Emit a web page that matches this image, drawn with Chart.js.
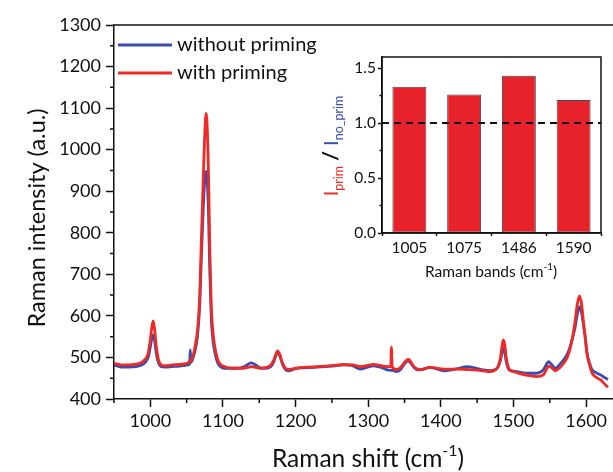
<!DOCTYPE html>
<html>
<head>
<meta charset="utf-8">
<script src="https://cdn.jsdelivr.net/npm/chart.js@4.4.1/dist/chart.umd.min.js"></script>
<style>
  body { margin: 0; background: #fff; }
  #wrap { position: relative; width: 613px; height: 472px; }
  #main { position: absolute; left: 0; top: 0; }
  #inset { position: absolute; left: 300px; top: 35px; }
</style>
</head>
<body>
<div id="wrap">
  <canvas id="main" width="613" height="472"></canvas>
  <canvas id="inset" width="313" height="255"></canvas>
</div>
<script>
// Raman spectra (cm-1 / a.u.)
const ramanShift = [950, 960, 970, 980, 988, 993, 997, 1000, 1002, 1004, 1006, 1008, 1011, 1015, 1020, 1030, 1040, 1048, 1052, 1054, 1055, 1056, 1059, 1062, 1065, 1068, 1070, 1072, 1074, 1076, 1077, 1078, 1080, 1081, 1082, 1084, 1086, 1088, 1093, 1102, 1115, 1128, 1134, 1139, 1145, 1151, 1160, 1166, 1170, 1173, 1175, 1178, 1182, 1186, 1190, 1200, 1210, 1225, 1240, 1255, 1266, 1278, 1289, 1298, 1307, 1318, 1326, 1331, 1332, 1333, 1339, 1344, 1349, 1353, 1356, 1359, 1363, 1368, 1372, 1385, 1395, 1403, 1415, 1425, 1436, 1447, 1458, 1468, 1475, 1479, 1482, 1484, 1486, 1488, 1490, 1494, 1500, 1513, 1522, 1532, 1541, 1545, 1548, 1552, 1558, 1564, 1569, 1574, 1578, 1582, 1585, 1588, 1591, 1594, 1596, 1599, 1601, 1605, 1608, 1614, 1620, 1625, 1630];

const withoutPriming = [482, 477, 477, 478, 482, 488, 500, 525, 545, 554, 540, 512, 488, 478, 477, 478, 479, 481, 482, 484, 518, 488, 500, 520, 552, 625, 725, 820, 900, 942, 948, 935, 855, 775, 700, 590, 545, 520, 486, 474, 474, 477, 483, 487, 482, 475, 474, 478, 490, 505, 513, 505, 484, 471, 468, 473, 475, 476, 478, 480, 482, 480, 472, 476, 480, 476, 470, 469, 469, 469, 466, 470, 482, 490, 491, 485, 476, 470, 470, 476, 472, 468, 470, 474, 478, 475, 470, 468, 471, 478, 492, 510, 522, 512, 490, 470, 467, 463, 462, 462, 470, 482, 490, 484, 474, 484, 494, 508, 526, 552, 574, 605, 622, 605, 582, 545, 514, 485, 471, 463, 458, 452, 447];

const withPriming = [486, 482, 482, 484, 488, 496, 510, 542, 572, 588, 565, 530, 496, 482, 480, 482, 483, 485, 487, 490, 491, 493, 505, 530, 566, 646, 766, 880, 990, 1075, 1087, 1068, 950, 850, 750, 620, 565, 534, 494, 478, 474, 474, 476, 478, 476, 474, 476, 482, 494, 508, 516, 508, 486, 474, 471, 474, 476, 477, 479, 481, 483, 482, 478, 480, 483, 480, 478, 478, 524, 477, 471, 475, 486, 494, 495, 488, 478, 472, 471, 476, 474, 472, 472, 472, 471, 470, 468, 466, 470, 479, 498, 525, 542, 530, 500, 472, 466, 459, 456, 454, 458, 470, 479, 476, 468, 476, 486, 500, 522, 555, 590, 630, 648, 625, 590, 545, 510, 480, 463, 452, 446, 437, 428];

const seriesNames = ['without priming', 'with priming'];

// inset: intensity ratio per Raman band
const bandLabels = ['1005', '1075', '1486', '1590'];
const intensityRatio = [1.33, 1.26, 1.43, 1.21];

const BLUE = '#3b4cb0';
const RED = '#ee2a26';
const INK = '#111';

Chart.defaults.font.family = 'Lato, "Open Sans", sans-serif';
Chart.defaults.color = INK;

function toPoints(ys) {
  return ramanShift.map((x, i) => ({ x: x, y: ys[i] }));
}

// title with a superscript piece, e.g. "(cm-1)"
function drawSupText(ctx, parts, cx, base, size) {
  const supSize = Math.round(size * 0.66);
  let total = 0;
  const widths = parts.map(p => {
    ctx.font = (p.sup ? supSize : size) + 'px Lato';
    const w = ctx.measureText(p.t).width;
    total += w;
    return w;
  });
  let x = cx - total / 2;
  parts.forEach((p, i) => {
    ctx.font = (p.sup ? supSize : size) + 'px Lato';
    ctx.fillText(p.t, x, p.sup ? base - size * 0.45 : base);
    x += widths[i];
  });
}

const mainDecor = {
  id: 'mainDecor',
  afterDraw(chart) {
    const { ctx, chartArea: a, scales: { x, y } } = chart;
    ctx.save();
    ctx.strokeStyle = INK;
    ctx.lineWidth = 1.5;
    ctx.beginPath();
    ctx.moveTo(a.left, a.top);
    ctx.lineTo(a.right, a.top);
    // minor ticks
    for (let v = 950; v < x.max; v += 100) {
      const px = x.getPixelForValue(v);
      ctx.moveTo(px, a.bottom);
      ctx.lineTo(px, a.bottom + 4);
    }
    for (let v = 450; v < y.max; v += 100) {
      const py = y.getPixelForValue(v);
      ctx.moveTo(a.left, py);
      ctx.lineTo(a.left - 4, py);
    }
    ctx.stroke();

    // legend
    ctx.textBaseline = 'alphabetic';
    ctx.textAlign = 'left';
    chart.data.datasets.forEach((ds, i) => {
      const ly = 45 + i * 28;
      ctx.strokeStyle = ds.borderColor;
      ctx.lineWidth = 2.8;
      ctx.beginPath();
      ctx.moveTo(118, ly);
      ctx.lineTo(172, ly);
      ctx.stroke();
      ctx.fillStyle = INK;
      ctx.font = '20px Lato';
      ctx.fillText(ds.label, 177, ly + 6);
    });

    // axis titles
    ctx.fillStyle = INK;
    drawSupText(ctx, [{ t: 'Raman shift (cm' }, { t: '-1', sup: true }, { t: ')' }], 368, 467, 24.5);
    ctx.translate(45, 218);
    ctx.rotate(-Math.PI / 2);
    ctx.textAlign = 'center';
    ctx.font = '23.5px Lato';
    ctx.fillText('Raman intensity (a.u.)', 0, 0);
    ctx.restore();
  }
};

new Chart(document.getElementById('main'), {
  type: 'line',
  data: {
    datasets: [
      { label: seriesNames[0], data: toPoints(withoutPriming), borderColor: BLUE, borderWidth: 2.8, order: 1 },
      { label: seriesNames[1], data: toPoints(withPriming), borderColor: RED, borderWidth: 2.8, order: 0 }
    ]
  },
  options: {
    responsive: false,
    animation: false,
    layout: { padding: { top: 25, right: 0, left: 0, bottom: 0 } },
    elements: { point: { radius: 0 }, line: { cubicInterpolationMode: 'monotone' } },
    plugins: { legend: { display: false }, tooltip: { enabled: false } },
    scales: {
      x: {
        type: 'linear', min: 950, max: 1637,
        ticks: { stepSize: 100, includeBounds: false, font: { size: 18 }, color: INK, padding: 3, maxRotation: 0, callback: v => String(v) },
        grid: { drawOnChartArea: false, tickLength: 8, tickWidth: 1.5, tickColor: INK },
        border: { color: INK, width: 1.5 },
        afterFit: s => { s.height = 73; s.paddingLeft = 0; s.paddingRight = 0; }
      },
      y: {
        min: 400, max: 1300,
        ticks: { stepSize: 100, includeBounds: false, font: { size: 18 }, color: INK, padding: 5, callback: v => String(v) },
        grid: { drawOnChartArea: false, tickLength: 8, tickWidth: 1.5, tickColor: INK },
        border: { color: INK, width: 1.5 },
        afterFit: s => { s.width = 114; s.paddingTop = 0; s.paddingBottom = 0; }
      }
    }
  },
  plugins: [mainDecor]
});

const insetDecor = {
  id: 'insetDecor',
  afterDraw(chart) {
    const { ctx, chartArea: a, scales: { y } } = chart;
    ctx.save();
    // dashed reference line at ratio 1
    const p1 = y.getPixelForValue(1);
    ctx.strokeStyle = INK;
    ctx.lineWidth = 2;
    ctx.setLineDash([7, 5]);
    ctx.beginPath();
    ctx.moveTo(a.left, p1);
    ctx.lineTo(a.right, p1);
    ctx.stroke();
    ctx.setLineDash([]);
    // frame + minor ticks
    ctx.lineWidth = 1.5;
    ctx.strokeRect(a.left, a.top, a.right - a.left, a.bottom - a.top);
    ctx.beginPath();
    for (let v = 0.25; v < y.max; v += 0.5) {
      const py = y.getPixelForValue(v);
      ctx.moveTo(a.left, py);
      ctx.lineTo(a.left - 2.5, py);
    }
    ctx.stroke();

    // x title
    ctx.fillStyle = INK;
    ctx.textBaseline = 'alphabetic';
    ctx.textAlign = 'left';
    drawSupText(ctx, [{ t: 'Raman bands (cm' }, { t: '-1', sup: true }, { t: ')' }], 191, 242, 15.5);

    // y title: I_prim / I_no_prim
    const parts = [
      { t: 'I', size: 20, c: RED, dy: 0 },
      { t: 'prim', size: 12.5, c: RED, dy: 5 },
      { t: ' / ', size: 21, c: INK, dy: 0, bold: true },
      { t: 'I', size: 20, c: BLUE, dy: 0 },
      { t: 'no_prim', size: 12.5, c: BLUE, dy: 5 }
    ];
    let total = 0;
    parts.forEach(p => {
      ctx.font = (p.bold ? 'bold ' : '') + p.size + 'px Lato';
      p.w = ctx.measureText(p.t).width;
      total += p.w;
    });
    ctx.translate(38, 111);
    ctx.rotate(-Math.PI / 2);
    let lx = -total / 2;
    parts.forEach(p => {
      ctx.font = (p.bold ? 'bold ' : '') + p.size + 'px Lato';
      ctx.fillStyle = p.c;
      ctx.fillText(p.t, lx, p.dy);
      lx += p.w;
    });
    ctx.restore();
  }
};

new Chart(document.getElementById('inset'), {
  type: 'bar',
  data: {
    labels: bandLabels,
    datasets: [{
      data: intensityRatio,
      backgroundColor: '#e8222a',
      borderColor: '#4a4a4a',
      borderWidth: 1,
      borderSkipped: false,
      barPercentage: 0.62,
      categoryPercentage: 1
    }]
  },
  options: {
    responsive: false,
    animation: false,
    layout: { padding: { top: 22, right: 12, left: 0, bottom: 0 } },
    plugins: { legend: { display: false }, tooltip: { enabled: false } },
    scales: {
      x: {
        ticks: { font: { size: 15.5 }, color: INK, padding: 3, maxRotation: 0 },
        grid: { drawOnChartArea: false, tickLength: 3, tickColor: INK, tickWidth: 1.5 },
        border: { color: INK, width: 1.5 },
        afterFit: s => { s.height = 57; s.paddingLeft = 0; s.paddingRight = 0; }
      },
      y: {
        min: 0, max: 1.6,
        ticks: { stepSize: 0.5, includeBounds: false, font: { size: 15.5 }, color: INK, padding: 2, callback: v => v.toFixed(1) },
        grid: { drawOnChartArea: false, tickLength: 4, tickColor: INK, tickWidth: 1.5 },
        border: { color: INK, width: 1.5 },
        afterFit: s => { s.width = 82; s.paddingTop = 0; s.paddingBottom = 0; }
      }
    }
  },
  plugins: [insetDecor]
});
</script>
</body>
</html>
